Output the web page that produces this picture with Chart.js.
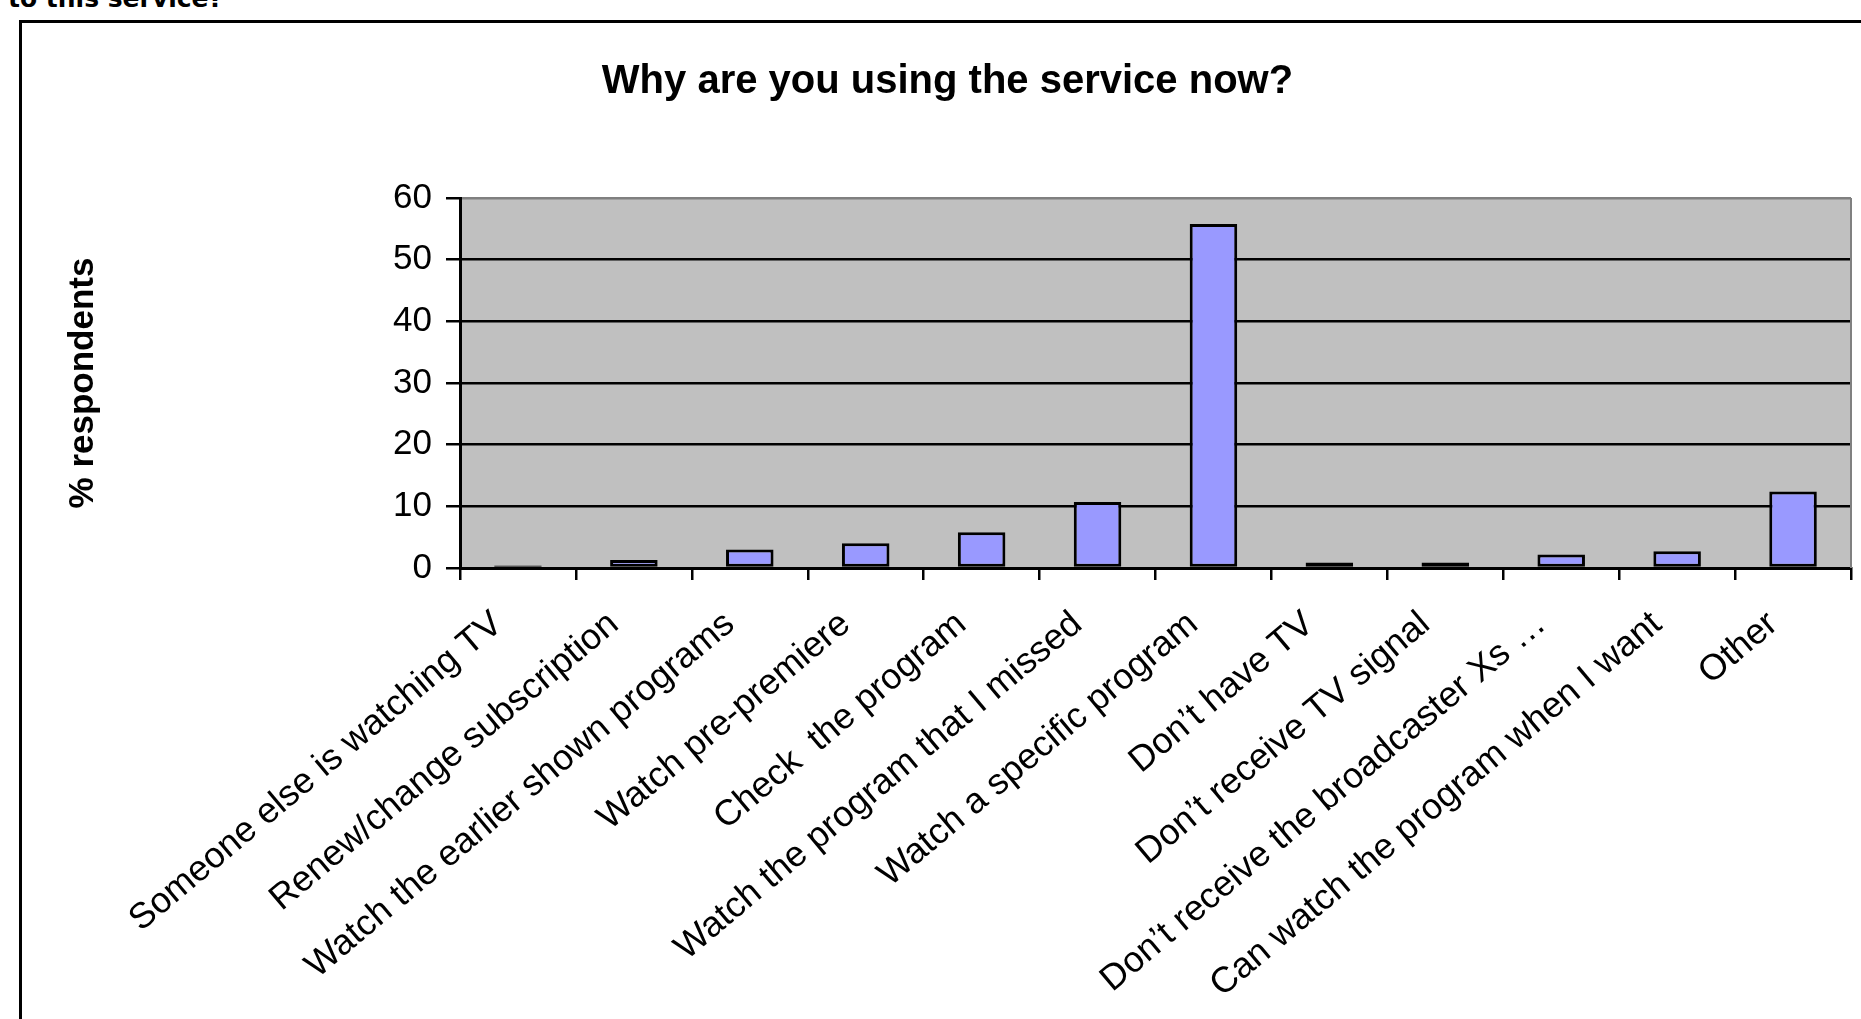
<!DOCTYPE html>
<html>
<head>
<meta charset="utf-8">
<script src="https://cdn.jsdelivr.net/npm/chart.js@4.4.1/dist/chart.umd.min.js"></script>
<style>
  html, body { margin: 0; padding: 0; background: #fff; overflow: hidden; }
  body { width: 1861px; height: 1019px; position: relative; }
  #lead { position: absolute; left: 8px; top: -14px; font: bold 25px/25px "DejaVu Sans", Verdana, sans-serif; color: #000; white-space: nowrap; }
  #frame { position: absolute; left: 19px; top: 20px; width: 1900px; height: 1100px; border: 3px solid #000; background: #fff; }
  #c { position: absolute; left: 0; top: 0; width: 1861px; height: 1019px; z-index: 2; }
</style>
</head>
<body>
<div id="lead">to this service?</div>
<div id="frame"></div>
<canvas id="c" width="1861" height="1019"></canvas>
<script>
const chartTitle = 'Why are you using the service now?';
const yAxisTitle = '% respondents';
const categories = [
  'Someone else is watching TV',
  'Renew/change subscription',
  'Watch the earlier shown programs',
  'Watch pre-premiere',
  'Check  the program',
  'Watch the program that I missed',
  'Watch a specific program',
  'Don\u2019t have TV',
  'Don\u2019t receive TV signal',
  'Don\u2019t receive the broadcaster Xs \u2026',
  'Can watch the program when I want',
  'Other'
];
const respondents = [0.4, 1.3, 3.0, 4.0, 5.8, 10.7, 55.8, 0.9, 0.9, 2.2, 2.7, 12.4];
const yMin = 0, yMax = 60, yStep = 10;

const FONT = "'Liberation Sans', Arial, sans-serif";
const PAD_LEFT = 44, PLOT_LEFT = 460, PLOT_BOTTOM = 568, CANVAS_H = 1019;

const plotBg = {
  id: 'plotBg',
  beforeDraw(chart) {
    const { ctx, chartArea: a } = chart;
    ctx.save();
    ctx.fillStyle = '#C0C0C0';
    ctx.fillRect(a.left, a.top, a.right - a.left, a.bottom - a.top);
    ctx.restore();
  },
  afterDraw(chart) {
    const { ctx, chartArea: a } = chart;
    ctx.save();
    ctx.strokeStyle = '#808080';
    ctx.lineWidth = 2;
    ctx.beginPath();
    ctx.moveTo(a.right, a.top);
    ctx.lineTo(a.right, a.bottom);
    ctx.stroke();
    ctx.restore();
  }
};

new Chart(document.getElementById('c'), {
  type: 'bar',
  data: {
    labels: categories,
    datasets: [{
      data: respondents,
      backgroundColor: '#9999FF',
      borderColor: '#000000',
      borderWidth: 3,
      borderSkipped: false,
      categoryPercentage: 1.0,
      barPercentage: 0.41
    }]
  },
  options: {
    responsive: false,
    animation: false,
    devicePixelRatio: 1,
    events: [],
    layout: { padding: { left: PAD_LEFT, right: 10, top: 0, bottom: 0 } },
    plugins: {
      legend: { display: false },
      tooltip: { enabled: false },
      title: {
        display: true,
        text: chartTitle,
        color: '#000',
        font: { family: FONT, size: 40, weight: 'bold' },
        padding: { top: 58, bottom: 92 }
      }
    },
    scales: {
      x: {
        offset: true,
        grid: {
          offset: true,
          drawOnChartArea: false,
          drawTicks: true,
          tickLength: 12,
          color: '#000',
          lineWidth: 2.5
        },
        border: { display: true, color: '#000', width: 3 },
        ticks: {
          autoSkip: false,
          minRotation: 40,
          maxRotation: 40,
          padding: 23,
          labelOffset: -20,
          color: '#000',
          font: { family: FONT, size: 36 }
        },
        afterFit(scale) {
          scale.height = CANVAS_H - PLOT_BOTTOM;
          scale.paddingLeft = 0;
          scale.paddingRight = 0;
        }
      },
      y: {
        min: yMin,
        max: yMax,
        ticks: {
          stepSize: yStep,
          padding: 14,
          color: '#000',
          font: { family: FONT, size: 35 }
        },
        grid: {
          color: (ctx) => (ctx.tick && ctx.tick.value === yMax ? '#808080' : '#000'),
          tickColor: '#000',
          lineWidth: 2.5,
          drawTicks: true,
          tickLength: 14
        },
        border: { display: true, color: '#000', width: 3 },
        title: {
          display: true,
          text: yAxisTitle,
          color: '#000',
          font: { family: FONT, size: 35, weight: 'bold' },
          padding: { top: 18, bottom: 0 }
        },
        afterFit(scale) {
          scale.width = PLOT_LEFT - PAD_LEFT;
        }
      }
    }
  },
  plugins: [plotBg]
});
</script>
</body>
</html>
